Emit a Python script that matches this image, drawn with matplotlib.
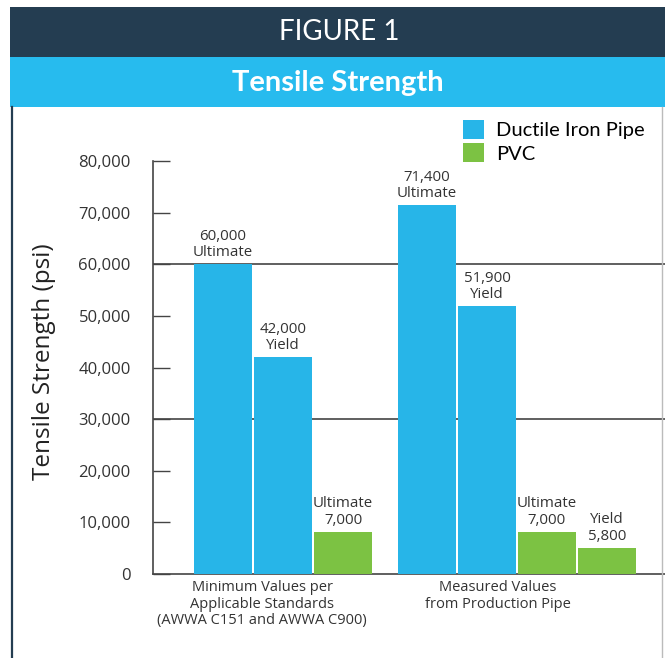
import numpy as np
import matplotlib
matplotlib.use("Agg")
import matplotlib.pyplot as plt
from matplotlib.patches import Rectangle, Patch
from matplotlib.lines import Line2D

plt.rcParams['font.family'] = ['Open Sans', 'DejaVu Sans']

# data
groups = ["Minimum Values per\nApplicable Standards\n(AWWA C151 and AWWA C900)",
          "Measured Values\nfrom Production Pipe"]
dip_values = [[60000, 42000], [71400, 51900]]          # ductile iron: ultimate, yield
dip_kinds = ["Ultimate", "Yield"]
pvc_heights = [[8200], [8200, 5100]]                     # pvc bars as drawn
pvc_labels = [["7,000"], ["7,000", "5,800"]]             # pvc values as printed
pvc_kinds = ["Ultimate", "Yield"]
yticks = [0, 10000, 20000, 30000, 40000, 50000, 60000, 70000, 80000]
gridvals = [30000, 60000]

navy = '#243d51'
sky = '#27bbee'
blue = '#27b5e8'
green = '#7cc243'
txt = '#333333'

W, H = 665, 658
fig = plt.figure(figsize=(W / 100, H / 100), dpi=100)

# header bands
fig.add_artist(Rectangle((10 / W, 1 - 57 / H), 1, 50 / H, transform=fig.transFigure,
                         facecolor=navy, edgecolor='none'))
fig.add_artist(Rectangle((10 / W, 1 - 107 / H), 1, 50 / H, transform=fig.transFigure,
                         facecolor=sky, edgecolor='none'))
fig.add_artist(Line2D([12 / W, 12 / W], [0, 1 - 107 / H], transform=fig.transFigure,
                      color=navy, lw=1.6))
fig.add_artist(Line2D([662 / W, 662 / W], [0, 1 - 107 / H], transform=fig.transFigure,
                      color='#bbbbbb', lw=1))
fig.text(339 / W, 1 - 32 / H, "FIGURE 1", color='white', fontsize=20,
         family=['Lato', 'DejaVu Sans'], ha='center', va='center')
fig.text(338 / W, 1 - 83 / H, "Tensile Strength", color='white', fontsize=21,
         family=['Lato', 'DejaVu Sans'], fontweight='bold', ha='center', va='center')

# axes: spine x=153, baseline y=574, 80,000 at y=161
ax = fig.add_axes([153 / W, (H - 574) / H, 1 - 153 / W, (574 - 161) / H])
ax.set_ylim(0, 80000)
ax.set_xlim(-1.167, 7.367)

starts = [0, 3.4]
bw = 0.967
for g in range(len(groups)):
    x0 = starts[g]
    for i, v in enumerate(dip_values[g]):
        ax.bar(x0 + i, v, width=bw, color=blue, zorder=3)
        ax.annotate(f"{v:,}\n{dip_kinds[i]}", (x0 + i, v), xytext=(0, 3),
                    textcoords='offset points', ha='center', va='bottom',
                    fontsize=10.8, color=txt, linespacing=1.1)
    for j, h in enumerate(pvc_heights[g]):
        xp = x0 + 2 + j
        ax.bar(xp, h, width=bw, color=green, zorder=3)
        ax.annotate(f"{pvc_kinds[j]}\n{pvc_labels[g][j]}", (xp, h), xytext=(0, 3),
                    textcoords='offset points', ha='center', va='bottom',
                    fontsize=10.8, color=txt, linespacing=1.1)

for gv in gridvals:
    ax.axhline(gv, color='#444444', lw=1.2, zorder=1)

xlab_x = [0.65, 4.58]
for xl, name in zip(xlab_x, groups):
    ax.text(xl, -1200, name, ha='center', va='top', fontsize=10.5, color=txt,
            linespacing=1.15)

ax.set_yticks(yticks)
ax.set_yticklabels([f"{t:,}" for t in yticks])
ax.set_xticks([])
ax.tick_params(axis='y', direction='in', length=12, width=1, color='#444444',
               pad=16, labelsize=12, labelcolor=txt)
for s in ['top', 'right']:
    ax.spines[s].set_visible(False)
for s in ['left', 'bottom']:
    ax.spines[s].set_color('#444444')
    ax.spines[s].set_linewidth(1.2)
ax.patch.set_alpha(0)

fig.text(44 / W, 1 - 362 / H, "Tensile Strength (psi)", rotation=90, fontsize=17.5,
         color='#222222', ha='center', va='center')

handles = [Patch(facecolor=blue, label="Ductile Iron Pipe"),
           Patch(facecolor=green, label="PVC")]
fig.legend(handles=handles, loc='upper left', bbox_to_anchor=(449 / W, 1 - 106 / H),
           frameon=False, handlelength=1.05, handleheight=1.05,
           handletextpad=0.6, labelspacing=0.2, borderpad=0.2,
           prop={'family': ['Lato', 'DejaVu Sans'], 'size': 14.5})

fig.savefig("out.png", dpi=100, facecolor='white')
